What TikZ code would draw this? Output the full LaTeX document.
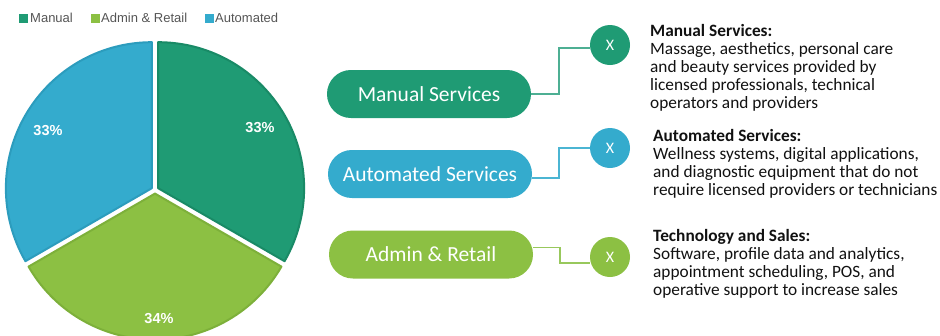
\documentclass[tikz,border=0pt]{standalone}
\usepackage{fontspec}
\setmainfont{Carlito}
\newfontfamily\legendfont{Liberation Sans}
\usetikzlibrary{calc}
\definecolor{mcol}{HTML}{1F9B74}
\definecolor{mdark}{HTML}{198A66}
\definecolor{acol}{HTML}{8CC043}
\definecolor{adark}{HTML}{7DB03A}
\definecolor{bcol}{HTML}{34ABCD}
\definecolor{bdark}{HTML}{2C9CBD}
\definecolor{mline}{HTML}{4DAF93}
\definecolor{bline}{HTML}{4BB5D3}
\definecolor{aline}{HTML}{98C85C}
\definecolor{legtext}{HTML}{555555}
\definecolor{desctext}{HTML}{111111}
\begin{document}
\begin{tikzpicture}[x=1pt,y=-1pt,
  pill/.style={rectangle, rounded corners=23.9pt, minimum width=204pt, minimum height=48pt, inner sep=0pt, text=white, font={\fontsize{21.5}{25}\selectfont}},
  xcirc/.style={circle, minimum size=40pt, inner sep=0pt, text=white, font={\fontsize{16}{18}\selectfont}},
  conn/.style={line width=1.5pt},
  desc/.style={anchor=base west, align=left, inner sep=0pt, text=desctext, font={\fontsize{17.3}{17.9}\selectfont}},
  legsq/.style={rectangle, minimum size=9pt, inner sep=0pt},
  legtxt/.style={anchor=base west, inner sep=0pt, text=legtext, font={\legendfont\fontsize{13}{15}\selectfont}},
  pct/.style={text=white, inner sep=0pt, font={\legendfont\bfseries\fontsize{14.5}{16}\selectfont}},
  slice/.style={line width=2pt, line join=round}
]
\useasboundingbox (0,0) rectangle (940,335);

% pie
\begin{scope}[shift={(155,190)}, y=1pt]
  \begin{scope}[shift={(30:3.6)}]
    \draw[slice, fill=mcol, draw=mdark] (0,0) -- (90:146) arc[start angle=90, end angle=-30, radius=146] -- cycle;
  \end{scope}
  \begin{scope}[shift={(150:3.6)}]
    \draw[slice, fill=bcol, draw=bdark] (0,0) -- (90:146) arc[start angle=90, end angle=210, radius=146] -- cycle;
  \end{scope}
  \begin{scope}[shift={(270:3.6)}]
    \draw[slice, fill=acol, draw=adark] (0,0) -- (210:146) arc[start angle=210, end angle=330, radius=146] -- cycle;
  \end{scope}
\end{scope}
\node[pct] (p1) at (260,128) {33\%};
\node[pct] (p2) at (48,131) {33\%};
\node[pct] (p3) at (159,319) {34\%};

% legend
\node[legsq, fill=mcol] (l1) at (23,18) {};
\node[legtxt] (t1) at (30,22.5) {Manual};
\node[legsq, fill=acol] (l2) at (95,18) {};
\node[legtxt] (t2) at (101,22.5) {Admin \& Retail};
\node[legsq, fill=bcol] (l3) at (209,18) {};
\node[legtxt] (t3) at (215,22.5) {Automated};

% pills
\node[pill, fill=mcol] (ms) at (429,94) {Manual Services};
\node[pill, fill=bcol] (as) at (430,174) {Automated Services};
\node[pill, fill=acol] (ar) at (431,254.5) {Admin \& Retail};

% circles
\node[xcirc, fill=mcol] (mx) at (610,45) {X};
\node[xcirc, fill=bcol] (bx) at (610,148) {X};
\node[xcirc, fill=acol] (ax) at (610,257) {X};

% connectors
\draw[conn, mline] (ms.east) -- ++(28,0) |- ([yshift=-3pt]mx.west);
\draw[conn, bline] ([yshift=-4pt]as.east) -- ++(27,0) |- (bx.west);
\draw[conn, aline] ([yshift=7pt]ar.east) -- ++(27,0) |- ([yshift=-6pt]ax.west);

% descriptions (anchored at the baseline of the last line)
\node[desc] (d1) at (650,108) {\textbf{Manual Services:}\\Massage, aesthetics, personal care\\and beauty services provided by\\licensed professionals, technical\\operators and providers};
\node[desc] (d2) at (653,195) {\textbf{Automated Services:}\\Wellness systems, digital applications,\\and diagnostic equipment that do not\\require licensed providers or technicians};
\node[desc] (d3) at (653,295.5) {\textbf{Technology and Sales:}\\Software, profile data and analytics,\\appointment scheduling, POS, and\\operative support to increase sales};
\end{tikzpicture}
\end{document}
